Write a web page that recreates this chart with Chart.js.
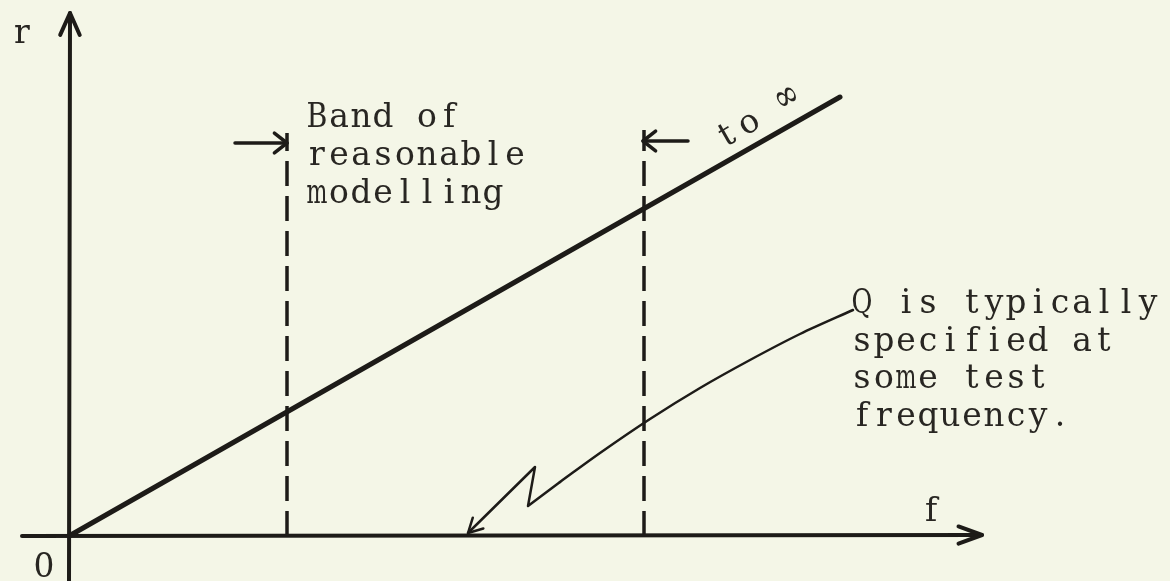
<!DOCTYPE html>
<html>
<head>
<meta charset="utf-8">
<script src="https://cdn.jsdelivr.net/npm/chart.js@4"></script>
<style>
  html, body { margin: 0; padding: 0; background: #f4f6e7; }
  #wrap { width: 1170px; height: 581px; }
</style>
</head>
<body>
<div id="wrap"><canvas id="myChart" width="1170" height="581"></canvas></div>
<script>
// values: f to the right of the r axis, r above the f axis
const axisF = [-47, 913];
const axisR = [-45, 523];
const responseF = [0, 771];
const responseR = [0, 439];
const bandLowF = 218;
const bandHighF = 575;
const bandTopR = [403, 406];
const bandArrowLowF = [166, 218];
const bandArrowHighF = [619, 574];
const bandArrowR = [393, 395];
const leaderF = [784, 731, 681, 631, 581, 531, 491];
const leaderR = [226, 202, 176, 148, 117, 83, 54];
const zigF = [491, 459, 466, 399];
const zigR = [54, 30, 69, 3];
const bandText = ["Band of", "reasonable", "modelling"];
const noteText = ["Q is typically", "specified at", "some test", "frequency."];

const ink = "#1d1b18";
const textInk = "#282622";

const pts = (xs, ys) => xs.map((x, i) => ({ x: x, y: ys[i] }));

const base = {
  borderColor: ink,
  pointRadius: 0,
  fill: false,
  borderCapStyle: "round",
  borderJoinStyle: "round",
  tension: 0
};

const datasets = [
  { ...base, data: pts(axisF, [0, 1]), borderWidth: 4, arrow: { len: 25, spread: 20 } },
  { ...base, data: pts([0, 1], axisR), borderWidth: 4, arrow: { len: 24, spread: 24 } },
  { ...base, data: pts(responseF, responseR), borderWidth: 5 },
  { ...base, data: pts([bandLowF, bandLowF], [0, bandTopR[0]]), borderWidth: 3.5, borderDash: [25, 10], borderCapStyle: "butt" },
  { ...base, data: pts([bandHighF, bandHighF], [0, bandTopR[1]]), borderWidth: 3.5, borderDash: [25, 10], borderCapStyle: "butt" },
  { ...base, data: pts(bandArrowLowF, [bandArrowR[0], bandArrowR[0]]), borderWidth: 3.5, arrow: { len: 16, spread: 38 } },
  { ...base, data: pts(bandArrowHighF, [bandArrowR[1], bandArrowR[1]]), borderWidth: 3.5, arrow: { len: 16, spread: 38 } },
  { ...base, data: pts(leaderF, leaderR), borderWidth: 2.5, tension: 0.3 },
  { ...base, data: pts(zigF, zigR), borderWidth: 2.5, arrow: { len: 16, spread: 28 } }
];

// paper background
const paper = {
  id: "paper",
  beforeDraw(chart) {
    const ctx = chart.ctx;
    ctx.save();
    ctx.fillStyle = "#f4f6e7";
    ctx.fillRect(0, 0, chart.width, chart.height);
    ctx.restore();
  }
};

// open arrow heads at the last point of a dataset
const arrowHeads = {
  id: "arrowHeads",
  afterDatasetsDraw(chart) {
    const ctx = chart.ctx;
    chart.data.datasets.forEach((ds, i) => {
      if (!ds.arrow) return;
      const el = chart.getDatasetMeta(i).data;
      const tip = el[el.length - 1];
      const prev = el[el.length - 2];
      const a = Math.atan2(tip.y - prev.y, tip.x - prev.x);
      const s = ds.arrow.spread * Math.PI / 180;
      ctx.save();
      ctx.strokeStyle = ink;
      ctx.lineWidth = ds.borderWidth;
      ctx.lineCap = "round";
      ctx.lineJoin = "round";
      ctx.beginPath();
      ctx.moveTo(tip.x - ds.arrow.len * Math.cos(a - s), tip.y - ds.arrow.len * Math.sin(a - s));
      ctx.lineTo(tip.x, tip.y);
      ctx.lineTo(tip.x - ds.arrow.len * Math.cos(a + s), tip.y - ds.arrow.len * Math.sin(a + s));
      ctx.stroke();
      ctx.restore();
    });
  }
};

// typewriter style: every character in a fixed 22px cell, wide ones squeezed
function typeLine(ctx, text, px, py, cell) {
  ctx.textAlign = "center";
  [...text].forEach((c, i) => {
    if (c === " ") return;
    const w = ctx.measureText(c).width;
    const k = w > cell * 0.95 ? (cell * 0.95) / w : 1;
    ctx.save();
    ctx.translate(px + cell * i + cell / 2, py);
    ctx.scale(k, 1);
    ctx.fillText(c, 0, 0);
    ctx.restore();
  });
}

// typed labels, placed in data units
const labels = {
  id: "labels",
  afterDatasetsDraw(chart) {
    const ctx = chart.ctx;
    const x = chart.scales.x, y = chart.scales.y;
    const put = (t, f, r) => typeLine(ctx, t, x.getPixelForValue(f), y.getPixelForValue(r), 22);
    ctx.save();
    ctx.fillStyle = textInk;
    ctx.textBaseline = "alphabetic";
    ctx.font = '33px "DejaVu Serif"';
    put("r", -58, 493);
    put("f", 851, 15);
    ctx.font = '34px "DejaVu Serif"';
    put("0", -36, -41);
    ctx.font = '33px "DejaVu Serif"';
    bandText.forEach((t, i) => put(t, 237, 409 - 38 * i));
    noteText.forEach((t, i) => put(t, 782, 223 - 37.5 * i));

    // "to ∞" written along the response line
    const x0 = x.getPixelForValue(responseF[0]), y0 = y.getPixelForValue(responseR[0]);
    const x1 = x.getPixelForValue(responseF[1]), y1 = y.getPixelForValue(responseR[1]);
    ctx.translate(x.getPixelForValue(652), y.getPixelForValue(386));
    ctx.rotate(Math.atan2(y1 - y0, x1 - x0));
    typeLine(ctx, "to", 0, 0, 25);
    ctx.font = '40px "DejaVu Serif"';
    typeLine(ctx, "∞", 70, -2, 26);
    ctx.restore();
  }
};

const config = {
  type: "line",
  data: { datasets: datasets },
  options: {
    responsive: false,
    animation: false,
    devicePixelRatio: 1,
    layout: { padding: 0 },
    plugins: { legend: { display: false }, tooltip: { enabled: false } },
    scales: {
      x: { type: "linear", min: -69, max: 1101, display: false },
      y: { type: "linear", min: -45, max: 536, display: false }
    }
  },
  plugins: [paper, arrowHeads, labels]
};

const ctx = document.getElementById("myChart").getContext("2d");
new Chart(ctx, config);
</script>
</body>
</html>
